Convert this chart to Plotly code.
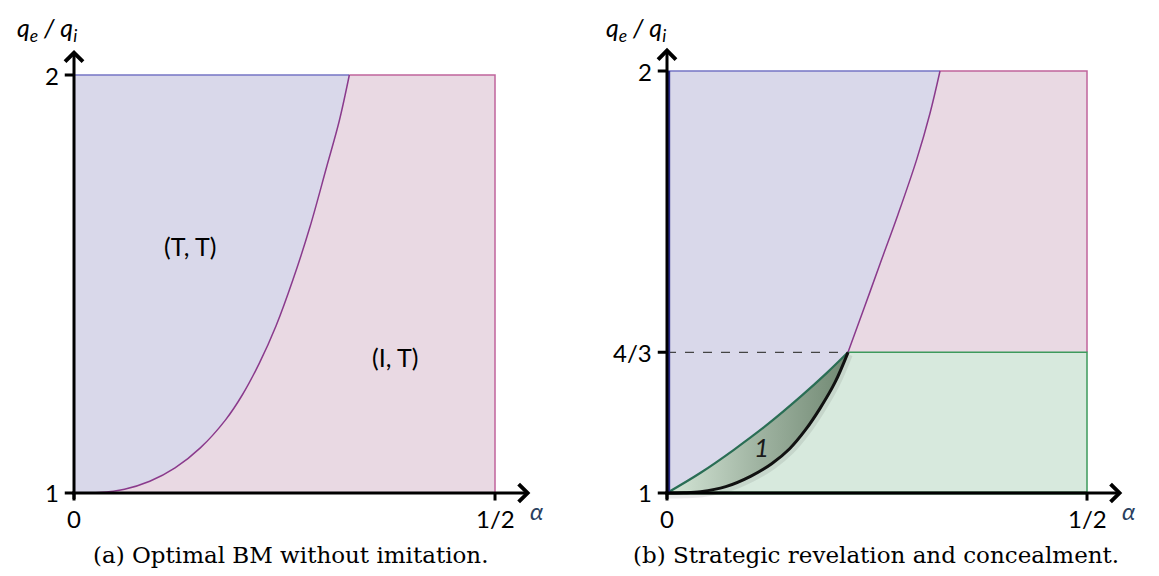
import plotly.graph_objects as go

# ---------------- data ----------------
# boundary between (T,T) and (I,T), panel (a)
alpha_bnd = [0, 0.03, 0.06, 0.09, 0.12, 0.15, 0.18, 0.20, 0.22, 0.24, 0.26, 0.28, 0.30, 0.315, 0.327]
q_bnd = [1, 1.001, 1.009, 1.028, 1.060, 1.108, 1.175, 1.235, 1.31, 1.40, 1.51, 1.635, 1.78, 1.89, 2.0]

# same boundary above 4/3, panel (b)
alpha_bnd_b = [0.2155, 0.235, 0.254, 0.275, 0.2972, 0.3131, 0.325]
q_bnd_b = [4 / 3, 1.44, 1.545, 1.66, 1.79, 1.90, 2.0]

# region "1" (lens) in panel (b)
alpha_lens_up = [0, 0.04, 0.08, 0.12, 0.16, 0.19, 0.2155]
q_lens_up = [1, 1.048, 1.103, 1.163, 1.230, 1.284, 4 / 3]
alpha_lens_low = [0, 0.02, 0.04, 0.07, 0.10, 0.125, 0.146, 0.165, 0.182, 0.2, 0.2155]
q_lens_low = [1, 1.0005, 1.003, 1.015, 1.04, 1.07, 1.105, 1.15, 1.2, 1.262, 4 / 3]

x_ticks = [0, 0.5]
x_tick_labels = ["0", "1/2"]
y_ticks_a = [1, 2]
y_tick_labels_a = ["1", "2"]
y_ticks_b = [1, 4 / 3, 2]
y_tick_labels_b = ["1", "4/3", "2"]

region_labels_a = [("(T, T)", 0.138, 1.59), ("(I, T)", 0.381, 1.325)]
captions = ["(a) Optimal BM without imitation.", "(b) Strategic revelation and concealment."]
y_title = "<i>q<sub>e</sub> / q<sub>i</sub></i>"
x_title = "<i>α</i>"

A_MAX = 0.5
Q_MIN, Q_MAX = 1, 2
Q_MID = 4 / 3

# ---------------- style ----------------
W, H = 1151, 568          # page body has an 8 px margin
PURPLE_FILL = "#d9d8ea"
PINK_FILL = "#e9d9e3"
GREEN_FILL = "#d7e9dd"
PURPLE_EDGE = "#7474c4"
PINK_EDGE = "#c0649c"
CURVE = "#8a3a8c"
GREEN_EDGE = "#3d9a5c"
SANS = "Lato, Open Sans, sans-serif"
TICKFONT = dict(family=SANS, size=24, color="black")

fig = go.Figure()


def poly(xs, ys, fill, xa, ya):
    fig.add_trace(go.Scatter(x=xs, y=ys, mode="lines", fill="toself", fillcolor=fill,
                             line=dict(width=0, color=fill), xaxis=xa, yaxis=ya,
                             hoverinfo="skip", showlegend=False))


def line(xs, ys, color, width, xa, ya, dash="solid", shape="linear"):
    fig.add_trace(go.Scatter(x=xs, y=ys, mode="lines",
                             line=dict(width=width, color=color, dash=dash, shape=shape),
                             xaxis=xa, yaxis=ya, hoverinfo="skip", showlegend=False))


# ---------------- panel (a) ----------------
poly(alpha_bnd + [0], q_bnd + [Q_MAX], PURPLE_FILL, "x", "y")
poly(alpha_bnd + [A_MAX, A_MAX], q_bnd + [Q_MAX, Q_MIN], PINK_FILL, "x", "y")
line([0, alpha_bnd[-1]], [Q_MAX, Q_MAX], PURPLE_EDGE, 1.5, "x", "y")
line([alpha_bnd[-1], A_MAX, A_MAX], [Q_MAX, Q_MAX, Q_MIN], PINK_EDGE, 1.5, "x", "y")
line(alpha_bnd, q_bnd, CURVE, 1.5, "x", "y", shape="spline")

# ---------------- panel (b) ----------------
poly(alpha_lens_up + alpha_bnd_b + [0], q_lens_up + q_bnd_b + [Q_MAX], PURPLE_FILL, "x2", "y2")
poly(alpha_bnd_b + [A_MAX, A_MAX], q_bnd_b + [Q_MAX, Q_MID], PINK_FILL, "x2", "y2")
poly(alpha_lens_up + [A_MAX, A_MAX], q_lens_up + [Q_MID, Q_MIN], GREEN_FILL, "x2", "y2")
# lens with gradient
fig.add_trace(go.Scatter(
    x=alpha_lens_up + alpha_lens_low[::-1], y=q_lens_up + q_lens_low[::-1],
    mode="lines", fill="toself", line=dict(width=0, shape="spline"),
    fillgradient=dict(type="horizontal",
                      colorscale=[[0, "rgb(214,231,216)"], [0.5, "rgb(160,180,162)"], [1, "rgb(112,136,114)"]]),
    xaxis="x2", yaxis="y2", hoverinfo="skip", showlegend=False))

line([0, alpha_bnd_b[-1]], [Q_MAX, Q_MAX], PURPLE_EDGE, 1.5, "x2", "y2")
line([alpha_bnd_b[-1], A_MAX, A_MAX], [Q_MAX, Q_MAX, Q_MID], PINK_EDGE, 1.5, "x2", "y2")
line([alpha_lens_up[-1], A_MAX, A_MAX], [Q_MID, Q_MID, Q_MIN], GREEN_EDGE, 1.5, "x2", "y2")
line([0, A_MAX], [Q_MIN, Q_MIN], "#2e6b3e", 3, "x2", "y2")
line(alpha_bnd_b, q_bnd_b, CURVE, 1.5, "x2", "y2", shape="spline")
line([0, alpha_lens_up[-1]], [Q_MID, Q_MID], "#444444", 1.2, "x2", "y2", dash="dash")
# soft shadow + lower black curve
line([a + 0.002 for a in alpha_lens_low], [q - 0.006 for q in q_lens_low],
     "rgba(0,0,0,0.08)", 6, "x2", "y2", shape="spline")
line(alpha_lens_up, q_lens_up, "#2a6e55", 2.2, "x2", "y2", shape="spline")
line(alpha_lens_low, q_lens_low, "#111111", 3, "x2", "y2", shape="spline")

# ---------------- axes, arrows, ticks ----------------
annotations = []
shapes = []
for xa, ya, q_top, yt, ytl in (("x", "y", 2.06, y_ticks_a, y_tick_labels_a),
                               ("x2", "y2", 2.055, y_ticks_b, y_tick_labels_b)):
    annotations.append(dict(x=0, y=q_top, ax=0, ay=0.982, xref=xa, yref=ya, axref=xa, ayref=ya,
                            text="", showarrow=True, arrowhead=4, arrowsize=1.15, arrowwidth=3,
                            arrowcolor="black"))
    annotations.append(dict(x=0.542, y=Q_MIN, ax=-0.004, ay=Q_MIN, xref=xa, yref=ya, axref=xa, ayref=ya,
                            text="", showarrow=True, arrowhead=4, arrowsize=1.15, arrowwidth=3,
                            arrowcolor="black"))
    for v, lab in zip(yt, ytl):
        shapes.append(dict(type="line", xref=xa, yref=ya, x0=-0.011, x1=0, y0=v, y1=v,
                           line=dict(color="black", width=3)))
        annotations.append(dict(x=-0.015, y=v, xref=xa, yref=ya, text=lab, showarrow=False,
                                xanchor="right", yanchor="middle", font=TICKFONT))
    for v, lab in zip(x_ticks, x_tick_labels):
        shapes.append(dict(type="line", xref=xa, yref=ya, x0=v, x1=v, y0=0.982, y1=Q_MIN,
                           line=dict(color="black", width=3)))
        annotations.append(dict(x=v, y=0.978, xref=xa, yref=ya, text=lab, showarrow=False,
                                xanchor="center", yanchor="top", font=TICKFONT))
    annotations.append(dict(x=0.549, y=0.958, xref=xa, yref=ya, text=x_title, showarrow=False,
                            xanchor="center", yanchor="middle", font=dict(family=SANS, size=24)))

# y titles (paper coords, page px minus body margin)
for cx in (47, 636):
    annotations.append(dict(x=(cx - 8) / W, y=1 - 2 / H, xref="paper", yref="paper",
                            text=y_title, showarrow=False, xanchor="center", yanchor="top",
                            font=dict(family=SANS, size=25, color="black")))

# navy left border in panel (b)
shapes.append(dict(type="line", xref="x2", yref="y2", x0=0.002, x1=0.002, y0=Q_MIN, y1=Q_MAX,
                   line=dict(color="#2b2b8c", width=3)))

for lab, ax_, ay_ in region_labels_a:
    annotations.append(dict(x=ax_, y=ay_, xref="x", yref="y", text=lab, showarrow=False,
                            font=dict(family=SANS, size=25, color="black")))
annotations.append(dict(x=0.113, y=1.11, xref="x2", yref="y2", text="<i>1</i>", showarrow=False,
                        font=dict(family=SANS, size=26, color="#1a1a1a")))

for cx, cap in zip([290, 876], captions):
    annotations.append(dict(x=(cx - 8) / W, y=(576 - 555) / H, xref="paper", yref="paper",
                            text=cap, showarrow=False, xanchor="center", yanchor="middle",
                            font=dict(family="DejaVu Serif, serif", size=23, color="black")))

ax_common = dict(visible=False, showgrid=False, zeroline=False, fixedrange=True)
fig.update_layout(
    width=W, height=H,
    margin=dict(l=0, r=0, t=0, b=0),
    paper_bgcolor="white", plot_bgcolor="white",
    xaxis=dict(domain=[0, 0.5], range=[-0.0784, 0.6051], anchor="y", **ax_common),
    yaxis=dict(domain=[0, 1], range=[0.8014, 2.1603], anchor="x", **ax_common),
    xaxis2=dict(domain=[0.5, 1], range=[-0.0994, 0.5857], anchor="y2", **ax_common),
    yaxis2=dict(domain=[0, 1], range=[0.8033, 2.1493], anchor="x2", **ax_common),
    annotations=annotations, shapes=shapes,
)

fig.write_html("out.html")
